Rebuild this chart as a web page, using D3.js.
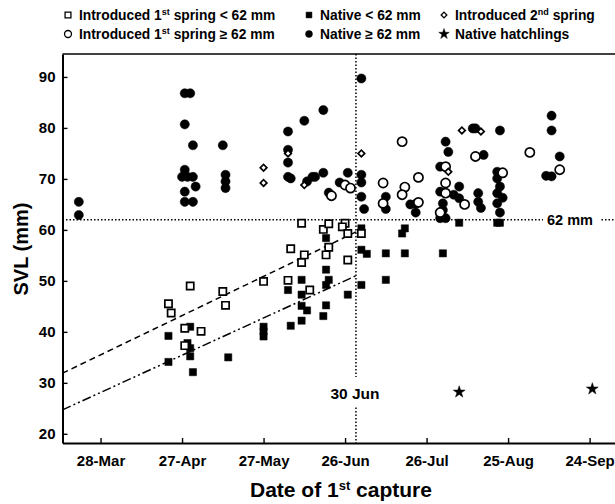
<!DOCTYPE html>
<html>
<head>
<meta charset="utf-8">
<script src="https://cdn.jsdelivr.net/npm/d3@7"></script>
<style>
    body { margin: 0; background: #fff; }
    text { font-family: "Liberation Sans", Arial, sans-serif; font-weight: bold; fill: #000; }
</style>
</head>
<body>
<svg id="chart" width="615" height="504"></svg>
<script>
// Each point: [date of 1st capture (MM-DD), SVL in mm]
const introducedSmall = [
    ['06-10', 61.3], ['06-18', 60.1], ['06-20', 61.2], ['06-26', 61.3], ['06-25', 60.6],
    ['06-27', 59.3], ['07-02', 59.3], ['06-27', 54.1], ['06-06', 56.3], ['06-11', 55.1],
    ['06-10', 53.6], ['06-20', 56.6], ['06-19', 55.1], ['04-30', 49.0], ['05-12', 47.9],
    ['05-27', 49.9], ['06-05', 50.1], ['06-13', 48.2], ['04-22', 45.5], ['04-23', 43.7],
    ['05-13', 45.2], ['04-28', 40.7], ['05-04', 40.1], ['04-28', 37.3]
];
const introducedLarge = [
    ['06-21', 66.7], ['06-26', 68.8], ['06-28', 68.2], ['07-10', 69.2], ['07-10', 65.2],
    ['07-17', 77.3], ['07-18', 68.4], ['07-17', 66.9], ['07-23', 65.4], ['07-23', 70.3],
    ['08-02', 72.4], ['08-02', 69.2], ['08-02', 67.2], ['07-31', 63.4], ['08-09', 65.0],
    ['08-13', 74.4], ['08-23', 71.2], ['09-02', 75.2], ['09-13', 71.8]
];
const introducedSecond = [
    ['05-27', 72.2], ['05-27', 69.2], ['06-05', 75.0], ['06-11', 68.8], ['07-02', 75.0],
    ['08-03', 71.4], ['08-08', 79.5], ['08-15', 79.3]
];
const nativeSmall = [
    ['08-07', 61.4], ['08-21', 61.4], ['08-22', 61.4], ['07-02', 60.3], ['07-18', 60.3],
    ['07-17', 59.3], ['07-02', 56.1], ['07-04', 55.3], ['07-11', 55.4], ['07-18', 55.4],
    ['08-01', 55.4], ['07-02', 49.2], ['07-11', 50.2], ['06-27', 47.3], ['06-19', 58.4],
    ['06-19', 52.2], ['06-20', 50.2], ['06-19', 49.2], ['06-10', 50.2], ['06-05', 48.2],
    ['06-10', 47.3], ['06-10', 45.1], ['06-12', 44.2], ['06-10', 42.2], ['06-19', 45.2],
    ['06-18', 43.1], ['06-06', 41.2], ['05-27', 41.0], ['05-27', 40.1], ['05-27', 39.1],
    ['04-30', 41.0], ['04-22', 39.2], ['04-29', 37.8], ['04-30', 36.8], ['04-30', 35.2],
    ['04-22', 34.1], ['05-01', 32.1], ['05-14', 35.0]
];
const nativeLarge = [
    ['03-20', 65.5], ['03-20', 62.9], ['04-28', 86.8], ['04-30', 86.8], ['04-28', 80.7],
    ['05-01', 76.6], ['04-28', 71.8], ['04-27', 70.4], ['04-29', 70.4], ['05-01', 70.4],
    ['05-02', 68.5], ['04-28', 67.5], ['04-28', 65.5], ['05-01', 65.5], ['05-12', 76.6],
    ['05-13', 70.8], ['05-13', 69.5], ['05-13', 68.2], ['06-05', 79.3], ['06-05', 75.7],
    ['06-05', 73.2], ['06-05', 70.4], ['06-06', 70.1], ['06-11', 81.4], ['06-12', 69.5],
    ['06-14', 70.4], ['06-15', 70.4], ['06-18', 83.5], ['06-18', 71.2], ['06-20', 67.3],
    ['06-24', 69.3], ['06-27', 71.2], ['07-02', 89.7], ['07-02', 70.8], ['07-02', 69.3],
    ['07-02', 66.5], ['07-03', 64.1], ['07-11', 66.5], ['07-11', 64.1], ['07-20', 65.0],
    ['07-22', 65.1], ['07-22', 63.4], ['08-02', 77.3], ['08-03', 75.3], ['07-31', 72.4],
    ['07-31', 67.5], ['08-01', 65.2], ['08-01', 63.9], ['07-31', 62.3], ['08-02', 62.3],
    ['08-07', 68.5], ['08-05', 66.9], ['08-07', 66.2], ['08-12', 79.9], ['08-13', 79.9],
    ['08-22', 79.5], ['08-16', 74.7], ['08-14', 67.2], ['08-14', 65.5], ['08-15', 64.3],
    ['08-21', 71.4], ['08-21', 70.1], ['08-22', 68.5], ['08-21', 67.2], ['08-23', 66.3],
    ['08-21', 65.2], ['08-22', 63.4], ['09-10', 82.4], ['09-10', 79.5], ['09-13', 74.4],
    ['09-08', 70.6], ['09-10', 70.5]
];
const nativeHatchlings = [['08-07', 28.2], ['09-25', 28.8]];

// Growth lines, drawn up to 30 Jun
const introducedFit = [['03-14', 31.9], ['06-30', 59.6]];
const nativeFit = [['03-14', 24.7], ['06-30', 51.0]];

const xTicks = ['03-28', '04-27', '05-27', '06-26', '07-26', '08-25', '09-24'];
const yTicks = [20, 30, 40, 50, 60, 70, 80, 90];
const sizeCutoff = 62;
const cutoffDate = '06-30';

/**
 * Layout.
 */
const margin = { top: 54, left: 62.5, bottom: 61 };
const svg = d3.select('#chart');
const parse = s => d3.timeParse('%Y-%m-%d')('2010-' + s);

const x = d3.scaleTime()
    .domain([parse('03-14'), parse('10-09')])
    .range([margin.left, margin.left + 209 * 2.717]);
const y = d3.scaleLinear()
    .domain([18.2, 94.5])
    .range([504 - margin.bottom, margin.top]);

const plot = svg.append('g');

// Frame top border
plot.append('line')
    .attr('x1', x.range()[0]).attr('x2', x.range()[1])
    .attr('y1', margin.top).attr('y2', margin.top)
    .attr('stroke', '#000').attr('stroke-width', 1.6);

// 62 mm reference line
plot.append('line')
    .attr('x1', x.range()[0]).attr('x2', x.range()[1])
    .attr('y1', y(sizeCutoff)).attr('y2', y(sizeCutoff))
    .attr('stroke', '#000').attr('stroke-width', 1.5)
    .attr('stroke-dasharray', '1.5,2');
plot.append('rect')
    .attr('x', 543).attr('y', y(sizeCutoff) - 8).attr('width', 58).attr('height', 16)
    .attr('fill', '#fff');
plot.append('text')
    .attr('x', 547).attr('y', y(sizeCutoff) + 5)
    .style('font-size', '14.5px')
    .text(sizeCutoff + ' mm');

// 30 Jun reference line
const xc = x(parse(cutoffDate));
plot.append('line')
    .attr('x1', xc).attr('x2', xc)
    .attr('y1', margin.top).attr('y2', y.range()[0])
    .attr('stroke', '#000').attr('stroke-width', 1.5)
    .attr('stroke-dasharray', '1.5,2');
plot.append('rect')
    .attr('x', xc - 28).attr('y', 377).attr('width', 56).attr('height', 30)
    .attr('fill', '#fff');
plot.append('text')
    .attr('x', xc - 1).attr('y', 399)
    .attr('text-anchor', 'middle')
    .style('font-size', '15.5px')
    .text('30 Jun');

// Growth lines
const line = d3.line().x(d => x(parse(d[0]))).y(d => y(d[1]));
plot.append('path')
    .attr('d', line(introducedFit))
    .attr('fill', 'none').attr('stroke', '#000').attr('stroke-width', 1.5)
    .attr('stroke-dasharray', '6,4');
plot.append('path')
    .attr('d', line(nativeFit))
    .attr('fill', 'none').attr('stroke', '#000').attr('stroke-width', 1.5)
    .attr('stroke-dasharray', '9,3,2,3,2,3');

/**
 * Markers.
 */
const symbols = {
    square: { gen: d3.symbol(d3.symbolSquare, 52), rot: 0 },
    circle: { gen: d3.symbol(d3.symbolCircle, 66), rot: 0 },
    diamond: { gen: d3.symbol(d3.symbolSquare, 22), rot: 45 },
    star: { gen: d3.symbol(d3.symbolStar, 44), rot: 0 }
};
const series = [
    { key: 'nativeLarge', data: nativeLarge, shape: 'circle', filled: true },
    { key: 'nativeSmall', data: nativeSmall, shape: 'square', filled: true },
    { key: 'nativeHatchlings', data: nativeHatchlings, shape: 'star', filled: true },
    { key: 'introducedSmall', data: introducedSmall, shape: 'square', filled: false },
    { key: 'introducedLarge', data: introducedLarge, shape: 'circle', filled: false },
    { key: 'introducedSecond', data: introducedSecond, shape: 'diamond', filled: false }
];

series.forEach(s => {
    const sym = symbols[s.shape];
    plot.append('g').attr('class', s.key)
        .selectAll('path')
        .data(s.data)
        .join('path')
        .attr('transform', d => 'translate(' + x(parse(d[0])) + ',' + y(d[1]) + ') rotate(' + sym.rot + ')')
        .attr('d', sym.gen)
        .attr('fill', s.filled ? '#000' : '#fff')
        .attr('stroke', '#000')
        .attr('stroke-width', s.filled ? 0.5 : 1.7);
});

/**
 * Axes.
 */
const xAxis = svg.append('g')
    .attr('transform', 'translate(0,' + y.range()[0] + ')')
    .call(d3.axisBottom(x)
        .tickValues(xTicks.map(parse))
        .tickFormat(d3.timeFormat('%d-%b'))
        .tickSizeInner(-5).tickSizeOuter(0).tickPadding(12));
const yAxis = svg.append('g')
    .attr('transform', 'translate(' + margin.left + ',0)')
    .call(d3.axisLeft(y)
        .tickValues(yTicks)
        .tickSizeInner(-5).tickSizeOuter(0).tickPadding(7));

[xAxis, yAxis].forEach(a => {
    a.select('.domain').attr('stroke-width', 2);
    a.selectAll('.tick line').attr('stroke-width', 1.4);
    a.selectAll('.tick text').style('font-size', '15px')
        .style('font-family', '"Liberation Sans", Arial, sans-serif').style('font-weight', 'bold');
});

// Axis titles
svg.append('text')
    .attr('x', 341).attr('y', 497)
    .attr('text-anchor', 'middle')
    .style('font-size', '21px')
    .call(t => {
        t.append('tspan').text('Date of 1');
        t.append('tspan').attr('dy', -7).style('font-size', '13px').text('st');
        t.append('tspan').attr('dy', 7).text(' capture');
    });
svg.append('text')
    .attr('transform', 'translate(28,249) rotate(-90)')
    .attr('text-anchor', 'middle')
    .style('font-size', '20px')
    .text('SVL (mm)');

/**
 * Legend.
 */
const legendItems = [
    { shape: 'square', filled: false, col: 0, row: 0, parts: ['Introduced 1', 'st', ' spring < 62 mm'] },
    { shape: 'circle', filled: false, col: 0, row: 1, parts: ['Introduced 1', 'st', ' spring \u2265 62 mm'] },
    { shape: 'square', filled: true, col: 1, row: 0, parts: ['Native < 62 mm'] },
    { shape: 'circle', filled: true, col: 1, row: 1, parts: ['Native \u2265 62 mm'] },
    { shape: 'diamond', filled: false, col: 2, row: 0, parts: ['Introduced 2', 'nd', ' spring'] },
    { shape: 'star', filled: true, col: 2, row: 1, parts: ['Native hatchlings'] }
];
const legendCols = [68, 309, 444];
const legendRows = [15, 34];
const legendSymbols = {
    square: { gen: d3.symbol(d3.symbolSquare, 34), rot: 0 },
    circle: { gen: d3.symbol(d3.symbolCircle, 38), rot: 0 },
    diamond: { gen: d3.symbol(d3.symbolSquare, 16), rot: 45 },
    star: { gen: d3.symbol(d3.symbolStar, 34), rot: 0 }
};

const legend = svg.append('g').attr('class', 'legend');
legendItems.forEach(it => {
    const lx = legendCols[it.col], ly = legendRows[it.row];
    const sym = legendSymbols[it.shape];
    legend.append('path')
        .attr('transform', 'translate(' + lx + ',' + ly + ') rotate(' + sym.rot + ')')
        .attr('d', sym.gen)
        .attr('fill', it.filled ? '#000' : '#fff')
        .attr('stroke', '#000').attr('stroke-width', it.filled ? 0.5 : 1.3);
    const t = legend.append('text')
        .attr('x', lx + 11).attr('y', ly + 4.8)
        .style('font-size', '13.8px');
    t.append('tspan').text(it.parts[0]);
    if (it.parts.length > 1) {
        t.append('tspan').attr('dy', -4.8).style('font-size', '9px').text(it.parts[1]);
        t.append('tspan').attr('dy', 4.8).text(it.parts[2]);
    }
});
</script>
</body>
</html>
